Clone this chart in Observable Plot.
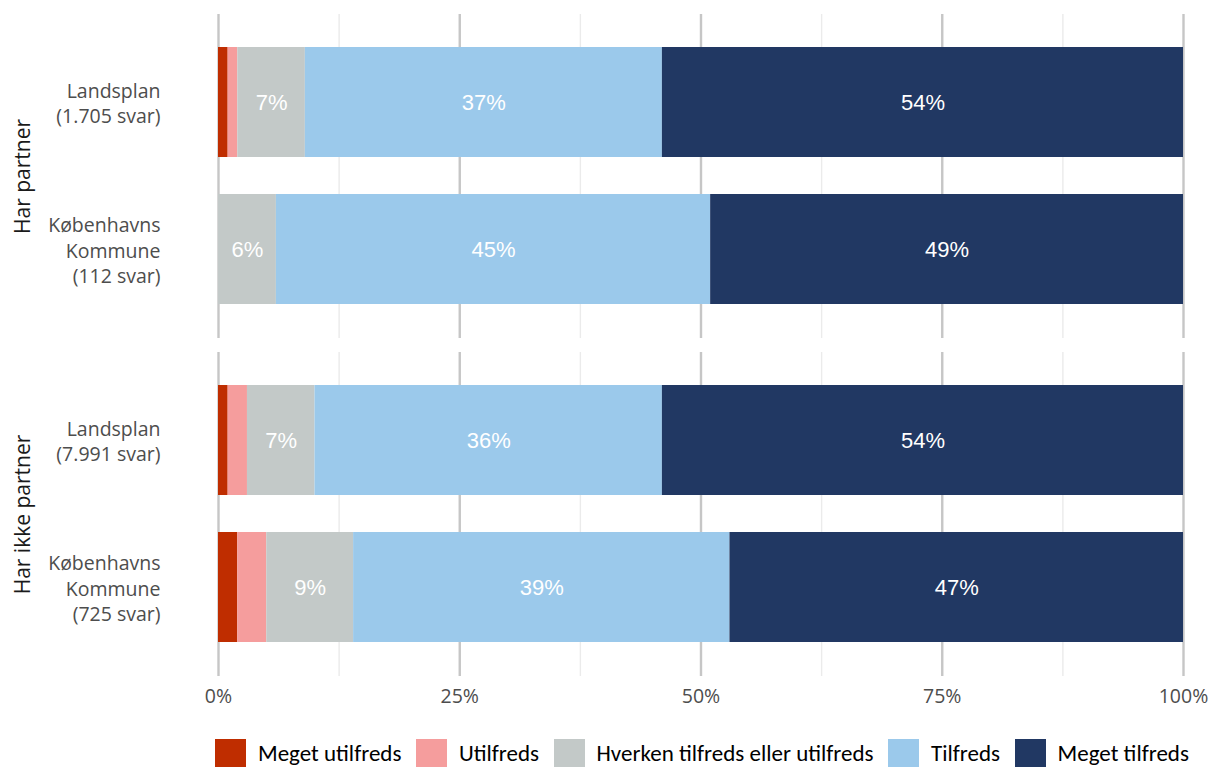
<!DOCTYPE html>
<html>
<head>
<meta charset="utf-8">
<script src="https://cdn.jsdelivr.net/npm/d3@7"></script>
<script src="https://cdn.jsdelivr.net/npm/@observablehq/plot@0.6"></script>
<style>
  html, body { margin: 0; padding: 0; background: #fff; }
  #legendwrap { padding-left: 215px; margin-top: 19px; }
  .lg-swatches { min-height: 0 !important; margin: 0 !important; font-family: "Carlito", "Liberation Sans", Arial, sans-serif !important; font-size: 23px !important; color: #000; }
  .lg-swatch { margin-right: 14.5px !important; }
  .lg-swatch > svg { margin-right: 12px !important; }
</style>
</head>
<body>
<div id="chart"></div>
<div id="legendwrap"></div>
<script>
// ---- data ----
const categories = ["Meget utilfreds", "Utilfreds", "Hverken tilfreds eller utilfreds", "Tilfreds", "Meget tilfreds"];
const colors = ["#BF2D00", "#F59D9D", "#C3C9C8", "#9BC9EB", "#213863"];
const groups = ["Har partner", "Har ikke partner"];
const rows = ["Landsplan", "Københavns Kommune"];
const rowLabels = {
  "Har partner": ["Landsplan\n(1.705 svar)", "Københavns\nKommune\n(112 svar)"],
  "Har ikke partner": ["Landsplan\n(7.991 svar)", "Københavns\nKommune\n(725 svar)"]
};
// values in percent, per category order
const harPartnerLandsplan = [1, 1, 7, 37, 54];
const harPartnerKbh = [0, 0, 6, 45, 49];
const ikkePartnerLandsplan = [1, 2, 7, 36, 54];
const ikkePartnerKbh = [2, 3, 9, 39, 47];
const majorTicks = [0, 25, 50, 75, 100];
const minorTicks = [12.5, 37.5, 62.5, 87.5];

// ---- table ----
const series = [
  ["Har partner", "Landsplan", harPartnerLandsplan],
  ["Har partner", "Københavns Kommune", harPartnerKbh],
  ["Har ikke partner", "Landsplan", ikkePartnerLandsplan],
  ["Har ikke partner", "Københavns Kommune", ikkePartnerKbh]
];
const data = [];
for (const [group, row, vals] of series) {
  vals.forEach((v, i) => data.push({group, row, cat: categories[i], value: v}));
}
const labels = [];
for (const g of groups) rows.forEach((r, i) => labels.push({group: g, row: r, label: rowLabels[g][i]}));

const plot = Plot.plot({
  width: 1211,
  height: 720,
  marginLeft: 218,
  marginRight: 28,
  marginTop: 14,
  marginBottom: 44,
  style: {fontFamily: "'Open Sans', sans-serif", background: "#fff"},
  x: {domain: [0, 100], axis: null},
  y: {domain: rows, paddingInner: 0.25, paddingOuter: 0.225, axis: null},
  fy: {domain: groups, paddingInner: 0.042, paddingOuter: 0, axis: null},
  color: {domain: categories, range: colors},
  marks: [
    Plot.ruleX(minorTicks, {stroke: "#ebebeb", strokeWidth: 1.4}),
    Plot.ruleX(majorTicks, {stroke: "#c6c6c6", strokeWidth: 2.4}),
    Plot.barX(data, Plot.stackX({x: "value", y: "row", fy: "group", fill: "cat", z: "cat", order: null})),
    Plot.text(data, Plot.stackX({
      x: "value", y: "row", fy: "group", z: "cat", order: null,
      text: d => d.value >= 5 ? d.value + "%" : null,
      fill: "white", fontSize: 22, fontFamily: "'Liberation Sans', Arial, sans-serif"
    })),
    Plot.text(labels, {
      fy: "group", y: "row", text: "label", frameAnchor: "left", dx: -58,
      textAnchor: "end", lineAnchor: "middle", lineHeight: 1.3,
      fontSize: 19.5, fill: "#4d4d4d"
    }),
    Plot.axisFy({anchor: "left", tickRotate: -90, tickSize: 0, tickPadding: 189, fontSize: 21, fill: "#1a1a1a", label: null}),
    Plot.axisX(majorTicks, {tickFormat: d => d + "%", tickSize: 0, tickPadding: 13, fontSize: 19.5, fill: "#4d4d4d", label: null})
  ]
});
document.getElementById("chart").appendChild(plot);

const legend = Plot.legend({
  color: {domain: categories, range: colors, type: "categorical"},
  swatchWidth: 31, swatchHeight: 28, className: "lg"
});
document.getElementById("legendwrap").appendChild(legend);
</script>
</body>
</html>
